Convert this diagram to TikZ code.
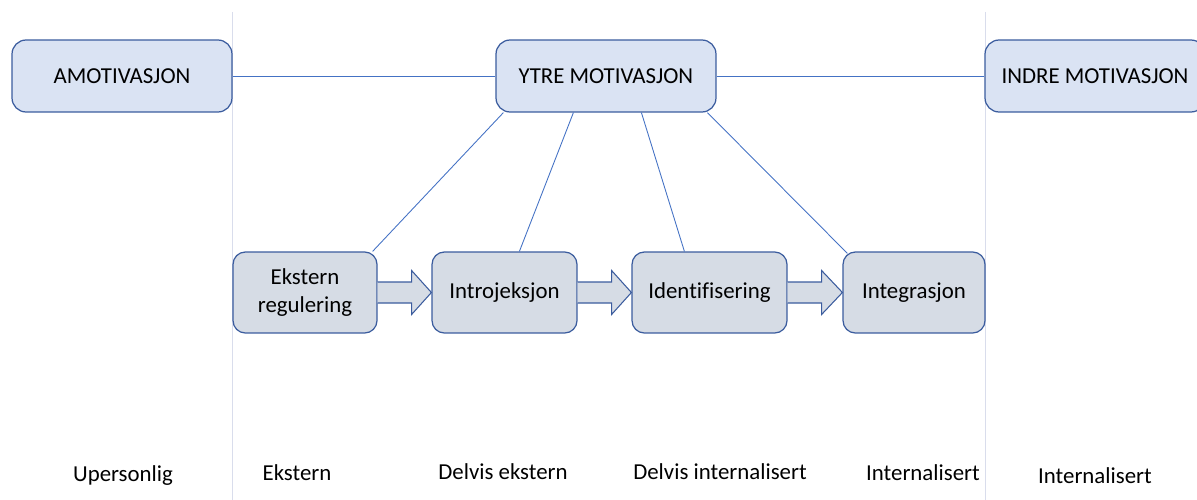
\documentclass[tikz,border=0pt]{standalone}
\usepackage{fontspec}
\setmainfont[Ligatures=NoCommon]{Carlito}
\usetikzlibrary{calc}
\definecolor{boxline}{HTML}{3B5C9E}
\definecolor{topfill}{HTML}{DAE3F3}
\definecolor{stagefill}{HTML}{D6DCE5}
\definecolor{linkline}{HTML}{4472C4}
\definecolor{divider}{HTML}{D9DDEC}
\tikzset{
  topbox/.style={draw=boxline, fill=topfill, line width=0.7pt, rounded corners=8pt,
    minimum width=4.4cm, minimum height=1.44cm, inner sep=0pt, font=\fontsize{13}{15}\selectfont},
  stagebox/.style={draw=boxline, fill=stagefill, line width=0.7pt, rounded corners=7pt,
    minimum height=1.62cm, inner sep=0pt, align=center, font=\fontsize{13}{15.5}\selectfont},
  link/.style={draw=linkline, line width=0.5pt},
  flow/.style={draw=boxline, fill=stagefill, line width=0.6pt, line join=miter},
  level/.style={font=\fontsize{13}{15}\selectfont, inner sep=0pt}
}
\begin{document}
\begin{tikzpicture}[x=0.02cm, y=-0.02cm]
\useasboundingbox (0,0) rectangle (1197,500);
% skillelinjer
\draw[divider, line width=0.5pt] (232,12) -- (232,500);
\draw[divider, line width=0.5pt] (985,12) -- (985,500);
% toppnivaa
\node[topbox] (amo) at (122,76) {AMOTIVASJON};
\node[topbox] (ytre) at (606,76) {YTRE MOTIVASJON};
\node[topbox] (indre) at (1095,76) {INDRE MOTIVASJON};
\draw[link] (amo.east) -- (ytre.west);
\draw[link] (ytre.east) -- (indre.west);
% reguleringstyper
\node[stagebox, minimum width=2.88cm] (ext) at (305,292.5) {Ekstern\\regulering};
\node[stagebox, minimum width=2.9cm] (intro) at (504.5,292.5) {Introjeksjon};
\node[stagebox, minimum width=3.1cm] (ident) at (709.5,292.5) {Identifisering};
\node[stagebox, minimum width=2.84cm] (integ) at (914,292.5) {Integrasjon};
\draw[link] ($(ytre.south west)+(8,0)$) -- ($(ext.north east)+(-5,0)$);
\draw[link] ($(ytre.south west)+(78,0)$) -- ($(intro.north west)+(88,0)$);
\draw[link] ($(ytre.south west)+(146,0)$) -- ($(ident.north west)+(53,0)$);
\draw[link] ($(ytre.south west)+(212,0)$) -- ($(integ.north west)+(5,2)$);
% blokkpiler
\foreach \a/\b in {ext/intro, intro/ident, ident/integ}
  \draw[flow] ($(\a.east)+(0,-10.5)$) -- ++(34,0) -- ++(0,-11.5) -- (\b.west)
    -- ($(\a.east)+(34,22)$) -- ++(0,-11.5) -- ($(\a.east)+(0,10.5)$);
% nivaa
\node[level] (lvl1) at (123,476) {Upersonlig};
\node[level] (lvl2) at (297,473) {Ekstern};
\node[level] (lvl3) at (503,472) {Delvis ekstern};
\node[level] (lvl4) at (720,472) {Delvis internalisert};
\node[level] (lvl5) at (923,473) {Internalisert};
\node[level] (lvl6) at (1095,476) {Internalisert};
\end{tikzpicture}
\end{document}
